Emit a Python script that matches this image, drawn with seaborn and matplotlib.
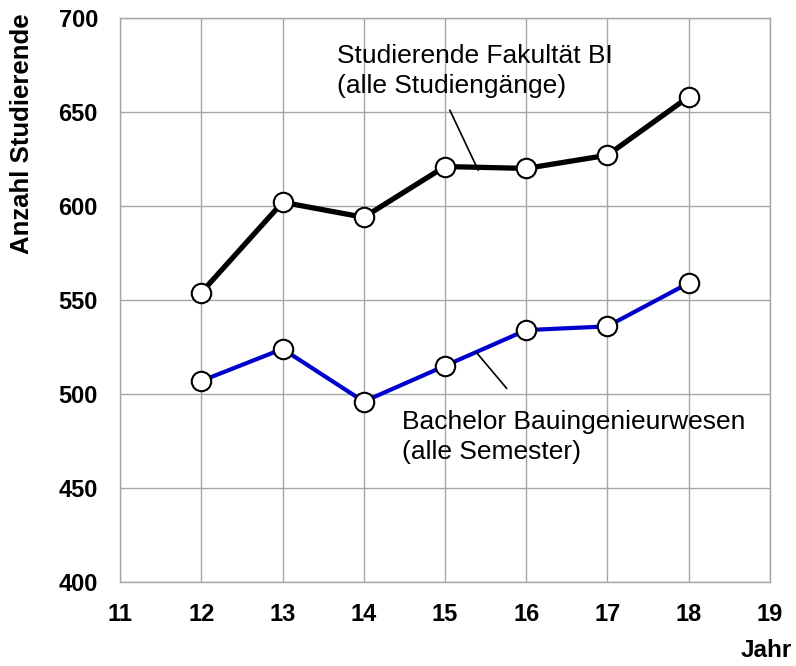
import pandas as pd
import matplotlib.pyplot as plt
import seaborn as sns

# Daten
jahre = [12, 13, 14, 15, 16, 17, 18]
fakultaet_bi = [554, 602, 594, 621, 620, 627, 658]
bachelor_bi = [507, 524, 496, 515, 534, 536, 559]

x_ticks = [11, 12, 13, 14, 15, 16, 17, 18, 19]
y_ticks = [400, 450, 500, 550, 600, 650, 700]

df = pd.DataFrame({
    'Jahr': jahre * 2,
    'Anzahl': fakultaet_bi + bachelor_bi,
    'Gruppe': ['Fakultaet'] * len(jahre) + ['Bachelor'] * len(jahre),
})

sns.set_style("white")
plt.rcParams['font.family'] = ['Liberation Sans', 'DejaVu Sans']
plt.rcParams['text.color'] = 'black'
plt.rcParams['xtick.color'] = 'black'
plt.rcParams['ytick.color'] = 'black'

fig = plt.figure(figsize=(7.96, 6.66), dpi=100)
ax = fig.add_axes([0.151, 0.126, 0.816, 0.847])

ax.grid(True, color='#a6a6a6', linewidth=1)
ax.set_axisbelow(True)

sns.lineplot(data=df[df['Gruppe'] == 'Fakultaet'], x='Jahr', y='Anzahl', ax=ax,
             color='black', linewidth=3.8, marker='o', markersize=14,
             markerfacecolor='white', markeredgecolor='black', markeredgewidth=1.5,
             zorder=3)
sns.lineplot(data=df[df['Gruppe'] == 'Bachelor'], x='Jahr', y='Anzahl', ax=ax,
             color='#0000cc', linewidth=3, marker='o', markersize=14,
             markerfacecolor='white', markeredgecolor='black', markeredgewidth=1.5,
             zorder=3)

ax.set_xlim(11, 19)
ax.set_ylim(400, 700)
ax.set_xticks(x_ticks)
ax.set_yticks(y_ticks)
ax.tick_params(axis='x', length=0, labelsize=17, pad=15)
ax.tick_params(axis='y', length=0, labelsize=17, pad=16)
for lbl in ax.get_xticklabels() + ax.get_yticklabels():
    lbl.set_fontweight('bold')

for s in ax.spines.values():
    s.set_color('#a6a6a6')
    s.set_linewidth(1)

ax.set_xlabel('')
ax.set_ylabel('')
fig.text(0.028, 0.80, 'Anzahl Studierende', rotation=90, fontsize=18.5,
         fontweight='bold', ha='center', va='center')
fig.text(0.995, 0.024, 'Jahr', fontsize=17.5, fontweight='bold', ha='right', va='center')

# Beschriftungen mit Hinweislinien
ax.plot([15.06, 15.41], [651, 619], color='black', linewidth=1.2, zorder=4)
ax.text(13.67, 686, 'Studierende Fakultät BI\n(alle Studiengänge)', fontsize=19,
        ha='left', va='top', linespacing=1.3)

ax.plot([15.39, 15.76], [522, 503], color='black', linewidth=1.2, zorder=4)
ax.text(14.47, 491.5, 'Bachelor Bauingenieurwesen\n(alle Semester)', fontsize=19,
        ha='left', va='top', linespacing=1.3)

fig.savefig('out.png', dpi=100)
plt.close(fig)
